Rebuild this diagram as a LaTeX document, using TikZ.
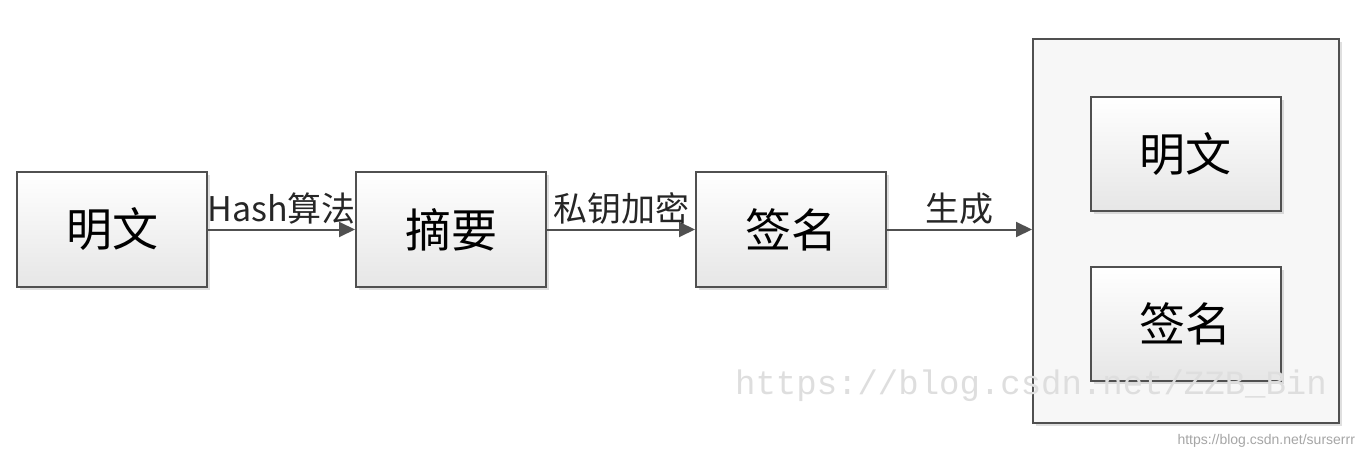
\documentclass[tikz,border=0pt]{standalone}
\usepackage{fontspec}
\setmainfont{Noto Sans CJK SC}
\newfontfamily\markfont{Liberation Mono}
\newfontfamily\smallmark{Liberation Sans}
\usepackage{tikz}
\usetikzlibrary{arrows.meta,shadows}
\definecolor{boxline}{HTML}{505050}
\definecolor{boxbottom}{HTML}{E6E6E6}
\tikzset{
  blockbox/.style={draw=boxline,line width=1pt,top color=white,bottom color=boxbottom,
    drop shadow={shadow xshift=1.5pt,shadow yshift=-1.5pt,opacity=0.25},
    minimum width=95pt,minimum height=57pt,inner sep=0pt,font=\fontsize{23}{23}\selectfont},
  outerbox/.style={draw=boxline,line width=1pt,fill=white!97!black,
    drop shadow={shadow xshift=1.5pt,shadow yshift=-1.5pt,opacity=0.25},
    minimum width=153pt,minimum height=192pt,inner sep=0pt},
  flowarrow/.style={draw=boxline,line width=1pt,-{Triangle[length=8pt,width=7.5pt]}},
  arrowlabel/.style={above,inner sep=2pt,font=\fontsize{17}{17}\selectfont,text=black!85}
}
\begin{document}
\begin{tikzpicture}[x=0.5pt,y=-0.5pt]
  \useasboundingbox[fill=white] (0,0) rectangle (1366,460);
  % left chain
  \node[blockbox] (mingwen) at (112,229.5) {明文};
  \node[blockbox] (zhaiyao) at (451,229.5) {摘要};
  \node[blockbox] (qianming) at (791,229.5) {签名};
  % result box
  \node[outerbox] (result) at (1186,231) {};
  \node[blockbox] (resmingwen) at (1185.5,154) {明文};
  \node[blockbox] (resqianming) at (1185.5,324) {签名};
  % watermarks
  \node[text=black!13,font=\markfont\fontsize{17}{17}\selectfont] (mark) at (1031,386) {https://blog.csdn.net/ZZB\_Bin};
  \node[text=black!35,font=\smallmark\fontsize{7}{7}\selectfont,anchor=east] (smallmark) at (1362,441) {https://blog.csdn.net/surserrr};
  % arrows
  \draw[flowarrow] (mingwen.east) -- node[arrowlabel] {Hash算法} (zhaiyao.west);
  \draw[flowarrow] (zhaiyao.east) -- node[arrowlabel] {私钥加密} (qianming.west);
  \draw[flowarrow] (qianming.east) -- node[arrowlabel] {生成} (result.west |- qianming.east);
\end{tikzpicture}
\end{document}
